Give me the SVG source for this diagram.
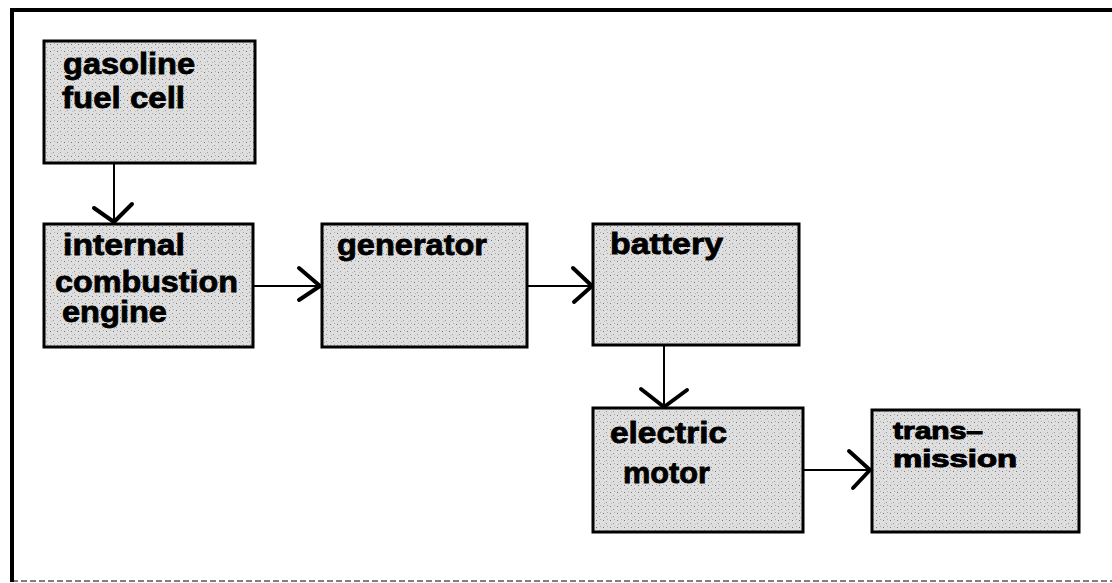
<svg xmlns="http://www.w3.org/2000/svg" width="1112" height="583" viewBox="0 0 1112 583">
  <defs>
    <pattern id="stip" width="7" height="7" patternUnits="userSpaceOnUse">
      <rect width="7" height="7" fill="#dedede"/>
      <rect x="1" y="2" width="1" height="1" fill="#777"/>
      <rect x="4" y="5" width="1" height="1" fill="#999"/>
      <rect x="5" y="1" width="1" height="1" fill="#aaa"/>
      <rect x="2" y="6" width="1" height="1" fill="#bbb"/>
    </pattern>
  </defs>
  <style>
    .box { fill: url(#stip); stroke: #000; stroke-width: 3; }
    .lbl { font-family: "Liberation Sans", Arial, sans-serif; font-weight: bold; font-size: 30px; fill: #000; stroke: #000; stroke-width: 0.8; }
    .sm { font-size: 23px; stroke-width: 1; }
    .edge { stroke: #000; stroke-width: 2; fill: none; }
    .head { stroke: #000; stroke-width: 4; fill: none; stroke-linecap: round; stroke-linejoin: round; }
    .frame { stroke: #000; fill: none; }
  </style>
  <rect width="1112" height="583" fill="#fff"/>
  <g id="frame">
    <line class="frame" x1="11" y1="10" x2="1112" y2="10" stroke-width="4"/>
    <line class="frame" x1="12" y1="8" x2="12" y2="582" stroke-width="4"/>
    <line class="frame" x1="12" y1="581" x2="1112" y2="581" stroke-width="1" stroke="#888" stroke-dasharray="6 3"/>
  </g>
  <g id="node-gasoline">
    <rect class="box" x="44" y="41" width="211" height="122"/>
    <text class="lbl" x="63" y="74" textLength="132" lengthAdjust="spacingAndGlyphs">gasoline</text>
    <text class="lbl" x="62" y="108" textLength="123" lengthAdjust="spacingAndGlyphs">fuel cell</text>
  </g>
  <g id="node-ice">
    <rect class="box" x="44" y="224" width="209" height="123"/>
    <text class="lbl" x="63" y="255" textLength="122" lengthAdjust="spacingAndGlyphs">internal</text>
    <text class="lbl" x="55" y="292" textLength="183" lengthAdjust="spacingAndGlyphs">combustion</text>
    <text class="lbl" x="62" y="322" textLength="105" lengthAdjust="spacingAndGlyphs">engine</text>
  </g>
  <g id="node-generator">
    <rect class="box" x="322" y="224" width="205" height="123"/>
    <text class="lbl" x="337" y="255" textLength="150" lengthAdjust="spacingAndGlyphs">generator</text>
  </g>
  <g id="node-battery">
    <rect class="box" x="593" y="224" width="206" height="121"/>
    <text class="lbl" x="610" y="254" textLength="113" lengthAdjust="spacingAndGlyphs">battery</text>
  </g>
  <g id="node-motor">
    <rect class="box" x="593" y="408" width="210" height="124"/>
    <text class="lbl" x="610" y="443" textLength="117" lengthAdjust="spacingAndGlyphs">electric</text>
    <text class="lbl" x="623" y="483" textLength="87" lengthAdjust="spacingAndGlyphs">motor</text>
  </g>
  <g id="node-transmission">
    <rect class="box" x="872" y="410" width="207" height="122"/>
    <text class="lbl sm" x="893" y="439" textLength="90" lengthAdjust="spacingAndGlyphs">trans–</text>
    <text class="lbl sm" x="893" y="467" textLength="124" lengthAdjust="spacingAndGlyphs">mission</text>
  </g>
  <g id="connectors">
    <line class="edge" x1="114" y1="163" x2="114" y2="223"/>
    <polyline class="head" points="94,208 114,222 132,204"/>
    <line class="edge" x1="253" y1="286" x2="321" y2="286"/>
    <polyline class="head" points="299,268 320,286 299,300"/>
    <line class="edge" x1="527" y1="286" x2="592" y2="286"/>
    <polyline class="head" points="573,268 592,286 574,302"/>
    <line class="edge" x1="664" y1="345" x2="664" y2="407"/>
    <polyline class="head" points="641,389 664,407 687,390"/>
    <line class="edge" x1="803" y1="470" x2="871" y2="470"/>
    <polyline class="head" points="849,451 870,470 853,488"/>
  </g>
</svg>
